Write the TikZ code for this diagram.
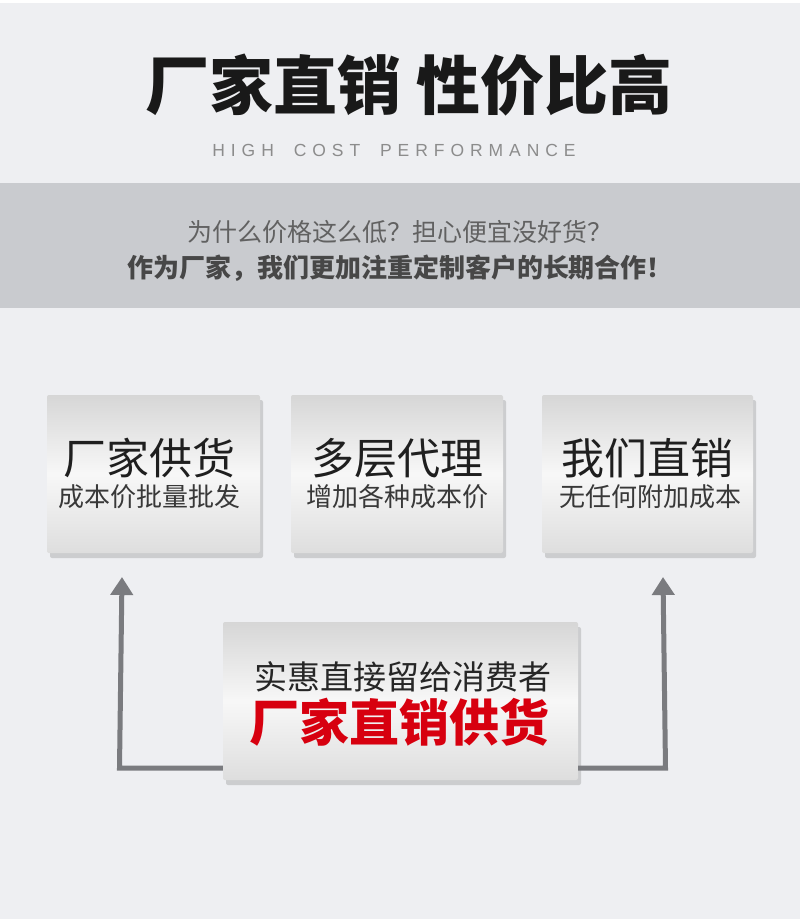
\documentclass[tikz,border=0pt]{standalone}
\usepackage{fontspec}
\setmainfont{Noto Sans CJK SC}
\newfontfamily\latinfont[LetterSpace=34]{Liberation Sans}
\usepackage{tikz}
\usetikzlibrary{arrows.meta,positioning,calc,shadows}
\definecolor{bgpale}{HTML}{EEEFF2}
\definecolor{bandgray}{HTML}{C9CBCF}
\definecolor{arrowgray}{HTML}{7A7B7F}
\definecolor{dealred}{HTML}{D7000F}
\tikzstyle{card}=[rounded corners=2pt,top color=black!16,bottom color=black!13,middle color=white!97!black,
  drop shadow={shadow xshift=3pt,shadow yshift=-5pt,opacity=0.3},inner sep=0pt]
\tikzstyle{bigtext}=[font=\fontsize{43}{46}\selectfont,text=black!88,inner sep=0pt]
\tikzstyle{smalltext}=[font=\fontsize{26}{28}\selectfont,text=black!78,inner sep=0pt]
\tikzstyle{flow}=[arrowgray,line width=5pt,-{Triangle[width=22pt,length=18pt]}]

\begin{document}
\begin{tikzpicture}[x=1pt,y=-1pt]
\fill[bgpale] (0,0) rectangle (800,919);
\fill[white] (0,0) rectangle (800,3);
\fill[bandgray] (0,183) rectangle (800,308);
\useasboundingbox (0,0) rectangle (800,919);
% headings
\node (title) at (409,85) {\fontsize{64}{66}\selectfont\bfseries\color{black!90}厂家直销 性价比高};
\node (subtitle) at (394,150) {\latinfont\fontsize{17.5}{20}\selectfont\color{black!45}HIGH\hspace{9pt} COST\hspace{9pt} PERFORMANCE};
\node (ask) at (400,232) {\fontsize{25}{27}\selectfont\color{black!62}为什么价格这么低？担心便宜没好货？};
\node (answer) at (400,268) {\fontsize{26}{28}\selectfont\bfseries\color{black!72}作为厂家，我们更加注重定制客户的长期合作！};
% three cards
\node [card,minimum width=213pt,minimum height=158pt] (factory) at (153.5,474) {};
\node [card,minimum width=212pt,minimum height=158pt] (agents) at (397,474) {};
\node [card,minimum width=211pt,minimum height=158pt] (direct) at (647.5,474) {};
\node [bigtext] (factoryA) at ($(factory.center)+(-4,-16)$) {厂家供货};
\node [smalltext] (factoryB) at ($(factory.center)+(-4,23)$) {成本价批量批发};
\node [bigtext] (agentsA) at ($(agents.center)+(0,-16)$) {多层代理};
\node [smalltext] (agentsB) at ($(agents.center)+(0,23)$) {增加各种成本价};
\node [bigtext] (directA) at ($(direct.center)+(0,-16)$) {我们直销};
\node [smalltext] (directB) at ($(direct.center)+(3,23)$) {无任何附加成本};
% bottom card
\node [card,minimum width=355pt,minimum height=158pt] (main) at (400.5,701) {};
\node [inner sep=0pt] (mainA) at ($(main.center)+(2,-24)$) {\fontsize{33}{35}\selectfont\color{black!85}实惠直接留给消费者};
\node [inner sep=0pt] (mainB) at ($(main.center)+(-1,21)$) {\fontsize{50}{52}\selectfont\bfseries\color{dealred}厂家直销供货};
% connectors
\coordinate (lcorner) at (122,768);
\coordinate (rcorner) at (663,768);
\draw [flow] (lcorner -| main.west) -- ([xshift=-2.5pt]lcorner) -- (lcorner |- 0,577);
\draw [flow] (rcorner -| main.east) -- ([xshift=2.5pt]rcorner) -- (rcorner |- 0,577);
\end{tikzpicture}
\end{document}
